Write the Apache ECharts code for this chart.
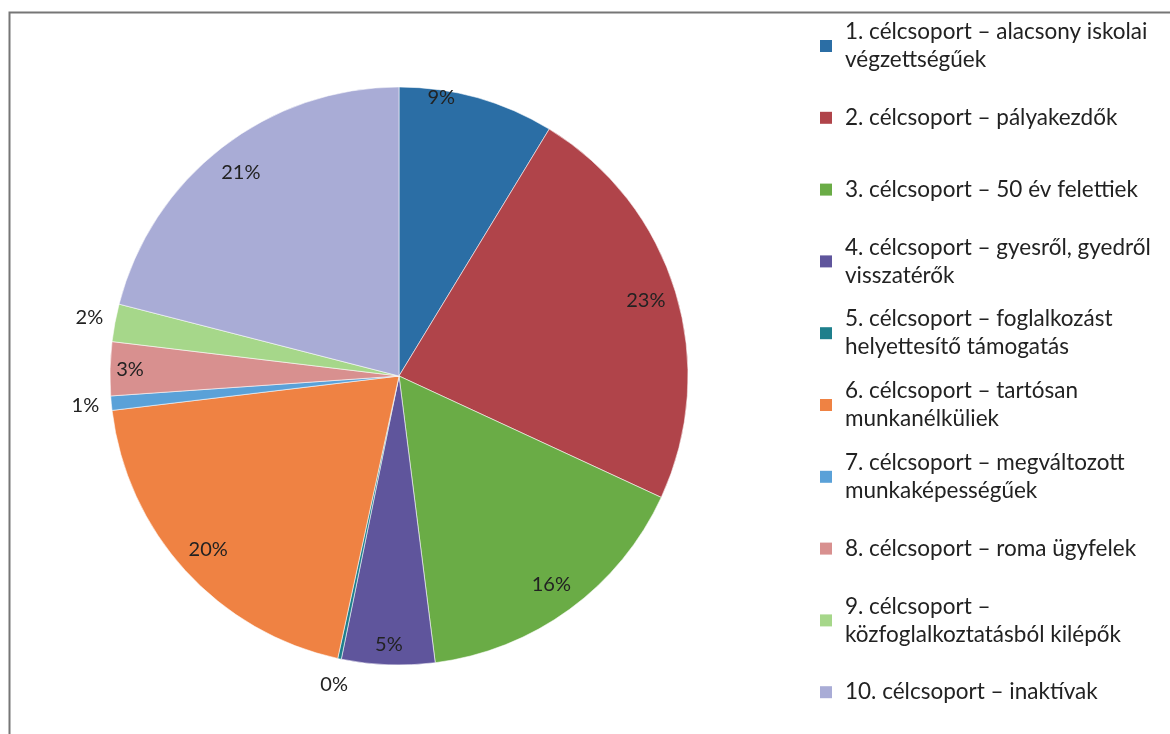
<!DOCTYPE html>
<html>
<head>
<meta charset="utf-8">
<script src="https://cdn.jsdelivr.net/npm/echarts@6/dist/echarts.min.js"></script>
<style>
html,body{margin:0;padding:0;background:#fff;}
#chart{width:1170px;height:734px;}
</style>
</head>
<body>
<div id="chart"></div>
<script>
// ---- data ----
const categories = [
  "1. célcsoport – alacsony iskolai\nvégzettségűek",
  "2. célcsoport – pályakezdők",
  "3. célcsoport – 50 év felettiek",
  "4. célcsoport – gyesről, gyedről\nvisszatérők",
  "5. célcsoport – foglalkozást\nhelyettesítő támogatás",
  "6. célcsoport – tartósan\nmunkanélküliek",
  "7. célcsoport – megváltozott\nmunkaképességűek",
  "8. célcsoport – roma ügyfelek",
  "9. célcsoport –\nközfoglalkoztatásból kilépők",
  "10. célcsoport – inaktívak"
];
const shares = [8.7, 23.2, 16.1, 5.2, 0.2, 19.7, 0.8, 3.0, 2.1, 21.0];
const colors = ['#2b6ea5','#b0444a','#6aac46','#5f559c','#1e7f8c','#ef8243','#5aa1d8','#d8908f','#a6d78a','#a9acd6'];

// label placement groups (style/layout only)
const ringMid = [1, 2, 5, 9];      // labels ~0.88 r
const ringIn  = [3, 7];            // labels ~0.92 r
const ringOut = [4, 6, 8];         // labels outside
const ringTop = [0];

const FONT = 'Lato';
const cx = 399, cy = 376, R = 289;

function pct(p){ return Math.round(p.percent) + '%'; }

function labelRing(r0, r1, showIdx, extra) {
  return Object.assign({
    type: 'pie',
    silent: true,
    center: [cx, cy],
    radius: [r0, r1],
    startAngle: 90,
    clockwise: true,
    legendHoverLink: false,
    itemStyle: { color: 'rgba(0,0,0,0)', borderWidth: 0 },
    labelLine: { show: false },
    emphasis: { disabled: true },
    data: categories.map((n, i) => ({
      name: n, value: shares[i],
      label: { show: showIdx.indexOf(i) >= 0 }
    })),
    label: {
      position: 'inside',
      formatter: pct,
      fontFamily: FONT,
      fontSize: 20,
      color: '#222'
    }
  }, extra || {});
}

const legendData = categories.map((n, i) => {
  const twoLines = n.indexOf('\n') >= 0;
  return {
    name: n,
    textStyle: {
      padding: twoLines ? [28, 0, 0, 8] : [28, 0, 28, 8],
      backgroundColor: 'rgba(255,255,255,0)'
    }
  };
});

const chart = echarts.init(document.getElementById('chart'), null, { renderer: 'canvas' });
chart.setOption({
  animation: false,
  backgroundColor: '#ffffff',
  color: colors,
  graphic: [{
    type: 'rect',
    left: 7, top: 10,
    shape: { width: 1200, height: 800 },
    style: { fill: 'none', stroke: '#767676', lineWidth: 2 },
    silent: true, z: 100
  }],
  legend: {
    orient: 'vertical',
    left: 820,
    top: 4,
    height: 760,
    padding: 0,
    itemGap: -12.2,
    itemWidth: 12,
    itemHeight: 12,
    icon: 'rect',
    selectedMode: false,
    itemStyle: { borderWidth: 0 },
    textStyle: {
      fontFamily: FONT,
      fontSize: 22.5,
      lineHeight: 28,
      color: '#222'
    },
    data: legendData
  },
  series: [
    {
      type: 'pie',
      center: [cx, cy],
      radius: R,
      startAngle: 90,
      clockwise: true,
      silent: true,
      label: { show: false },
      labelLine: { show: false },
      itemStyle: { borderColor: 'rgba(255,255,255,0.55)', borderWidth: 1 },
      data: categories.map((n, i) => ({ name: n, value: shares[i] }))
    },
    labelRing(250, 260, ringMid),
    labelRing(261, 271, ringIn),
    labelRing(307, 317, ringOut),
    labelRing(278, 288, ringTop, {
      labelLayout: function (p) { return p.dataIndex === 0 ? { dx: -35, dy: -3 } : {}; }
    })
  ]
});
</script>
</body>
</html>
